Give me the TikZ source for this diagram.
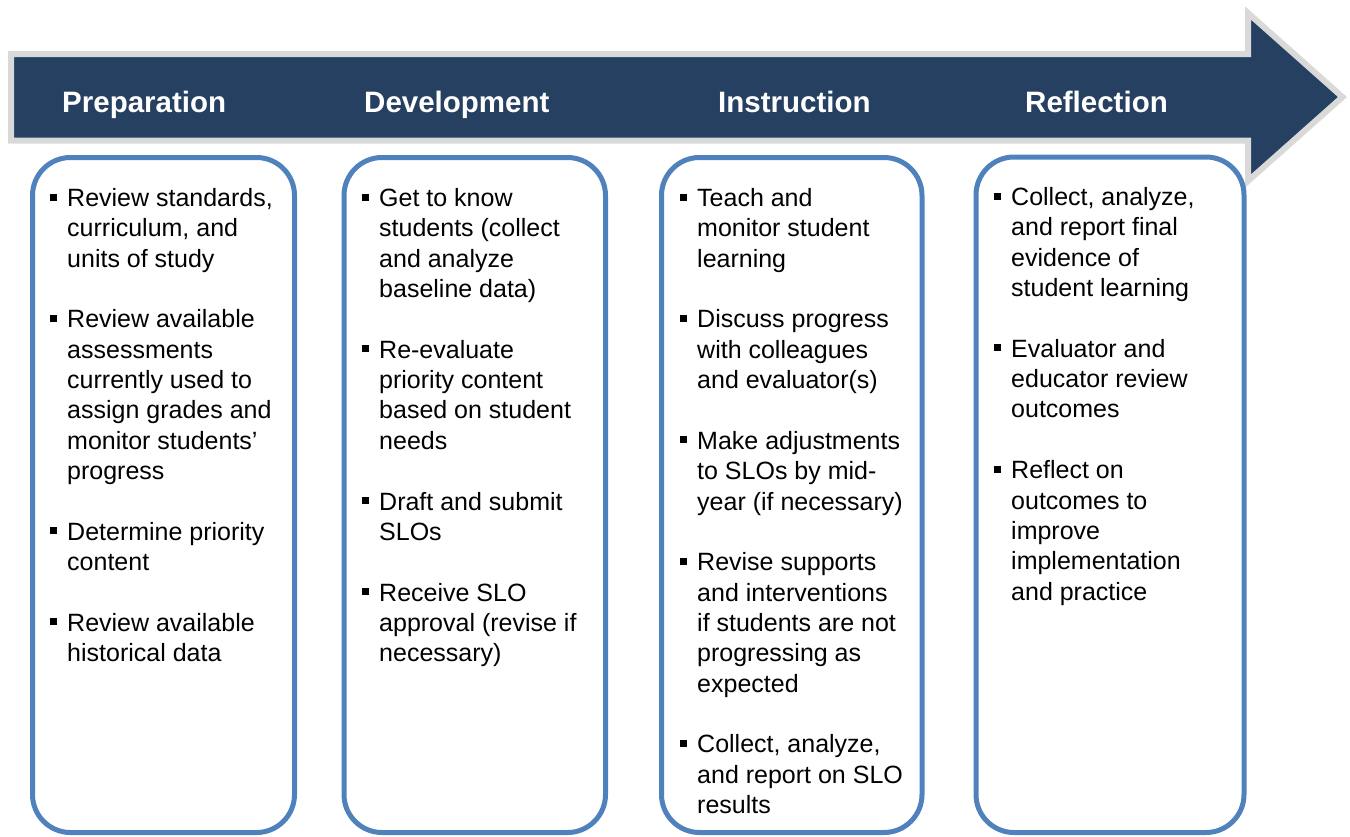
\documentclass[tikz,border=0pt]{standalone}
\usepackage{fontspec}
\setmainfont{Liberation Sans}
\definecolor{navy}{RGB}{38,64,97}
\definecolor{arrowgray}{RGB}{217,217,217}
\definecolor{boxblue}{RGB}{79,129,189}
\newcommand\bul{\leavevmode\llap{\rule[6pt]{7pt}{7pt}\hspace{10pt}}}
\newcommand\gap{\\[30.35pt]}
\begin{document}
\begin{tikzpicture}[x=1pt,y=-1pt,
  phasebox/.style={draw=boxblue, line width=5pt, rounded corners=38pt},
  head/.style={anchor=base west, inner sep=0pt, text=white, font=\fontsize{29.5}{34}\selectfont\bfseries},
  items/.style={anchor=base west, inner sep=0pt, font=\fontsize{25}{30.35}\selectfont}]
\useasboundingbox (0,0) rectangle (1350,836);
% big arrow
\draw[fill=navy, draw=arrowgray, line width=6pt, line join=miter]
  (11,54) -- (1248,54) -- (1248,13) -- (1342.5,97) -- (1248,181) -- (1248,140.5) -- (11,140.5) -- cycle;
% headings
\node[head] (h1) at (62,112.7) {Preparation};
\node[head] (h2) at (364,112.7) {Development};
\node[head] (h3) at (718,112.7) {Instruction};
\node[head] (h4) at (1025,112.7) {Reflection};
% boxes
\draw[phasebox] (32.5,157.5) rectangle (294.5,832.5);
\draw[phasebox] (344,157.5) rectangle (605.5,832.5);
\draw[phasebox] (661.5,157.5) rectangle (922,832.5);
\draw[phasebox] (976,157) rectangle (1244,832.5);
% texts
\node[items] (t1) at (67,206.5) {\parbox[t]{230pt}{\raggedright
\bul Review standards,\\ curriculum, and\\ units of study\gap
\bul Review available\\ assessments\\ currently used to\\ assign grades and\\ monitor students'\\ progress\gap
\bul Determine priority\\ content\gap
\bul Review available\\ historical data}};
\node[items] (t2) at (379,206.5) {\parbox[t]{230pt}{\raggedright
\bul Get to know\\ students (collect\\ and analyze\\ baseline data)\gap
\bul Re-evaluate\\ priority content\\ based on student\\ needs\gap
\bul Draft and submit\\ SLOs\gap
\bul Receive SLO\\ approval (revise if\\ necessary)}};
\node[items] (t3) at (697,206.5) {\parbox[t]{230pt}{\raggedright
\bul Teach and\\ monitor student\\ learning\gap
\bul Discuss progress\\ with colleagues\\ and evaluator(s)\gap
\bul Make adjustments\\ to SLOs by mid-\\ year (if necessary)\gap
\bul Revise supports\\ and interventions\\ if students are not\\ progressing as\\ expected\gap
\bul Collect, analyze,\\ and report on SLO\\ results}};
\node[items] (t4) at (1011,205.5) {\parbox[t]{230pt}{\raggedright
\bul Collect, analyze,\\ and report final\\ evidence of\\ student learning\gap
\bul Evaluator and\\ educator review\\ outcomes\gap
\bul Reflect on\\ outcomes to\\ improve\\ implementation\\ and practice}};
\end{tikzpicture}
\end{document}
